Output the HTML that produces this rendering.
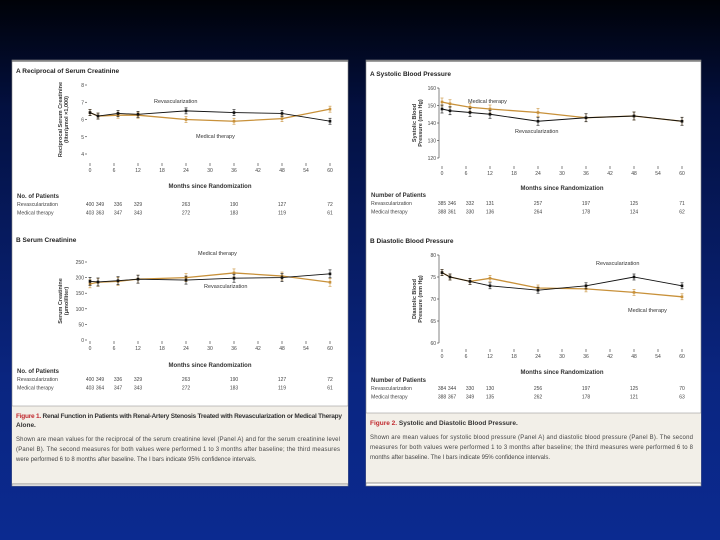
<!DOCTYPE html>
<html><head><meta charset="utf-8"><style>
html,body{margin:0;padding:0}
body{width:720px;height:540px;overflow:hidden;background:linear-gradient(#000208 0%,#031040 20%,#0a2580 70%,#0b2a90 100%);font-family:"Liberation Sans",sans-serif}
svg{position:absolute;left:0;top:0}
</style></head><body>
<svg id="s" width="720" height="540"></svg>
<script>
const months=[0,2,7,12,24,36,48,60];
const xTicks=[0,6,12,18,24,30,36,42,48,54,60];
const recipRev=[6.4,6.2,6.35,6.3,6.5,6.4,6.35,5.9];
const recipMed=[6.4,6.2,6.25,6.25,6.0,5.9,6.05,6.6];
const recipTicks=[4,5,6,7,8];
const creatRev=[188,186,190,195,192,198,200,212];
const creatMed=[180,185,188,195,200,215,205,185];
const creatTicks=[0,50,100,150,200,250];
const sysRev=[148,147,146,145,141,143,144,141];
const sysMed=[152,151,149,148,146,143,144,141];
const sysTicks=[120,130,140,150,160];
const diaRev=[76,75,74,73,72,73,75,73];
const diaMed=[76,75,74,74.7,72.5,72.3,71.5,70.5];
const diaTicks=[60,65,70,75,80];
const nA=[["400","349","336","329","263","190","127","72"],["403","363","347","343","272","183","119","61"]];
const nS=[["385","346","332","131","257","197","125","71"],["388","361","330","136","264","178","124","62"]];
const nD=[["384","344","330","130","256","197","125","70"],["388","367","349","135","262","178","121","63"]];

const NS="http://www.w3.org/2000/svg";
const S=document.getElementById('s');
function E(t,a,p){const e=document.createElementNS(NS,t);for(const k in a)e.setAttribute(k,a[k]);(p||S).appendChild(e);return e;}
function T(x,y,s,o,p){o=o||{};const e=E('text',Object.assign({x:x,y:y,'font-size':o.fs||6,fill:o.fill||'#222','text-anchor':o.a||'start','font-family':'Liberation Sans, sans-serif'},o.extra||{}),p);if(o.w)e.setAttribute('font-weight',o.w);e.textContent=s;return e;}

function panel(x,y,w,h,name){const g=E('g',{});
 E('rect',{x:x,y:y,width:w,height:h,fill:'#fff',stroke:'#888','stroke-width':0.6},g);
 E('line',{x1:x,y1:y+1,x2:x+w,y2:y+1,stroke:'#666','stroke-width':1.2},g);return g;}
const PL=panel(12,60,336,426,'figure-1-panel');
const PR=panel(366,60,335,426,'figure-2-panel');

function chart(o){
 const g=E('g',{},o.p);
 const X=m=>o.x0+(o.x1-o.x0)*m/60;
 const Y=v=>o.yb+(o.yt-o.yb)*(v-o.ymin)/(o.ymax-o.ymin);
 T(o.tx,o.ty,o.title,{fs:6.5,w:'bold',fill:'#222'},g);
 const ya=E('g',{},g);
 if(o.yline)E('line',{x1:o.x0-3,y1:Y(o.ymin),x2:o.x0-3,y2:Y(o.ymax),stroke:'#333','stroke-width':0.6},ya);
 o.yticks.forEach(v=>{E('line',{x1:o.x0-5,y1:Y(v),x2:o.x0-3,y2:Y(v),stroke:'#333','stroke-width':0.6},ya);
  T(o.x0-6,Y(v)+2,String(v),{fs:5,a:'end',fill:'#444'},ya);});
 const yt=T(0,0,o.ylab[0],{fs:5.5,w:'bold',a:'middle',fill:'#333',extra:{transform:`translate(${o.ylx},${(Y(o.ymin)+Y(o.ymax))/2}) rotate(-90)`}},g);
 
 T(0,0,o.ylab[1],{fs:5.5,w:'bold',a:'middle',fill:'#333',extra:{transform:`translate(${o.ylx+6},${(Y(o.ymin)+Y(o.ymax))/2}) rotate(-90)`}},g);
 const xa=E('g',{},g);
 xTicks.forEach(m=>{E('line',{x1:X(m),y1:o.xty-9,x2:X(m),y2:o.xty-6,stroke:'#333','stroke-width':0.6},xa);
  T(X(m),o.xty,String(m),{fs:5,a:'middle',fill:'#444'},xa);});
 const xl=T((o.x0+o.x1)/2,o.xly,'Months since Randomization',{fs:6,w:'bold',a:'middle',fill:'#333'},g);
 
 [[o.med,'#c8913a','medical-therapy-line',1.3],[o.rev,'#111','revascularization-line',0.9]].forEach(([d,c,n,w])=>{
  const sg=E('g',{},g);
  E('polyline',{points:d.map((v,i)=>X(months[i])+','+Y(v)).join(' '),fill:'none',stroke:c,'stroke-width':w},sg);
  d.forEach((v,i)=>{const cx=X(months[i]),cy=Y(v),e=o.err;
   E('line',{x1:cx,y1:cy-e,x2:cx,y2:cy+e,stroke:c,'stroke-width':0.6},sg);
   E('line',{x1:cx-1.5,y1:cy-e,x2:cx+1.5,y2:cy-e,stroke:c,'stroke-width':0.6},sg);
   E('line',{x1:cx-1.5,y1:cy+e,x2:cx+1.5,y2:cy+e,stroke:c,'stroke-width':0.6},sg);
   const pt=E('rect',{x:cx-1.3,y:cy-1.3,width:2.6,height:2.6,fill:c},sg);
   });
 });
 T(o.revLab[0],o.revLab[1],'Revascularization',{fs:5.5,fill:'#333'},g);
 T(o.medLab[0],o.medLab[1],'Medical therapy',{fs:5.5,fill:'#333'},g);
 const tg=E('g',{},g);
 T(o.tx+1,o.ny,o.nlab,{fs:6,w:'bold',fill:'#333'},tg);
 ['Revascularization','Medical therapy'].forEach((r,j)=>{const yy=o.ny+8+j*8.5;
  T(o.tx+1,yy,r,{fs:5.2,fill:'#444'},tg);
  o.n[j].forEach((s,i)=>T(X(months[i])+(i==1?2:0),yy,s,{fs:5,a:'middle',fill:'#444'},tg));});
}

chart({p:PL,name:'chart-reciprocal-creatinine',title:'A  Reciprocal of Serum Creatinine',tx:16,ty:73,x0:90,x1:330,yb:154,yt:85,ymin:4,ymax:8,yticks:recipTicks,
 ylab:['Reciprocal Serum Creatinine','(liter/μmol ×1,000)'],ylx:62,xty:172,xly:188,rev:recipRev,med:recipMed,err:3,
 revLab:[154,103],medLab:[196,138],ny:198,nlab:'No. of Patients',n:nA,yline:false});
chart({p:PL,name:'chart-serum-creatinine',title:'B  Serum Creatinine',tx:16,ty:242,x0:90,x1:330,yb:340,yt:262,ymin:0,ymax:250,yticks:creatTicks,
 ylab:['Serum Creatinine','(μmol/liter)'],ylx:62,xty:350,xly:367,rev:creatRev,med:creatMed,err:4,
 revLab:[204,288],medLab:[198,255],ny:373,nlab:'No. of Patients',n:[nA[0],["403","364","347","343","272","183","119","61"]],yline:false});
chart({p:PR,name:'chart-systolic-bp',title:'A  Systolic Blood Pressure',tx:370,ty:76,x0:442,x1:682,yb:158,yt:88,ymin:120,ymax:160,yticks:sysTicks,
 ylab:['Systolic Blood','Pressure (mm Hg)'],ylx:416,xty:175,xly:190,rev:sysRev,med:sysMed,err:4,
 revLab:[515,133],medLab:[468,103],ny:197,nlab:'Number of Patients',n:nS,yline:true});
chart({p:PR,name:'chart-diastolic-bp',title:'B  Diastolic Blood Pressure',tx:370,ty:243,x0:442,x1:682,yb:343,yt:255,ymin:60,ymax:80,yticks:diaTicks,
 ylab:['Diastolic Blood','Pressure (mm Hg)'],ylx:416,xty:358,xly:374,rev:diaRev,med:diaMed,err:3,
 revLab:[596,265],medLab:[628,312],ny:382,nlab:'Number of Patients',n:nD,yline:true});

function caption(p,x,y,w,h,name,label,title,lines){
 const g=E('g',{},p);
 E('rect',{x:x,y:y,width:w,height:h,fill:'#f2efe8'},g);
 E('line',{x1:x,y1:y,x2:x+w,y2:y,stroke:'#888','stroke-width':0.6},g);
 E('line',{x1:x,y1:y+h,x2:x+w,y2:y+h,stroke:'#777','stroke-width':0.8},g);
 const t=T(x+4,y+12,'',{fs:6.5,w:'bold',fill:'#333'},g);
 if(title[1])t.setAttribute('textLength',w-10);
 const a=document.createElementNS(NS,'tspan');a.setAttribute('fill','#c0282d');a.textContent=label;t.appendChild(a);
 const b=document.createElementNS(NS,'tspan');b.textContent=title[0];t.appendChild(b);
 let yy=y+12;
 if(title[1]){yy+=9;T(x+4,yy,title[1],{fs:6.5,w:'bold',fill:'#333'},g);}
 yy+=4;
 lines.forEach((l,i)=>{yy+=10;const e=T(x+4,yy,l,{fs:6,fill:'#444'},g);if(i<lines.length-1)e.setAttribute('textLength',w-12);});
}
caption(PL,12,406,336,78,'figure-1-caption','Figure 1. ',['Renal Function in Patients with Renal-Artery Stenosis Treated with Revascularization or Medical Therapy','Alone.'],
 ['Shown are mean values for the reciprocal of the serum creatinine level (Panel A) and for the serum creatinine level','(Panel B). The second measures for both values were performed 1 to 3 months after baseline; the third measures','were performed 6 to 8 months after baseline. The I bars indicate 95% confidence intervals.']);
caption(PR,366,413,335,70,'figure-2-caption','Figure 2. ',['Systolic and Diastolic Blood Pressure.'],
 ['Shown are mean values for systolic blood pressure (Panel A) and diastolic blood pressure (Panel B). The second','measures for both values were performed 1 to 3 months after baseline; the third measures were performed 6 to 8','months after baseline. The I bars indicate 95% confidence intervals.']);
</script>
</body></html>
